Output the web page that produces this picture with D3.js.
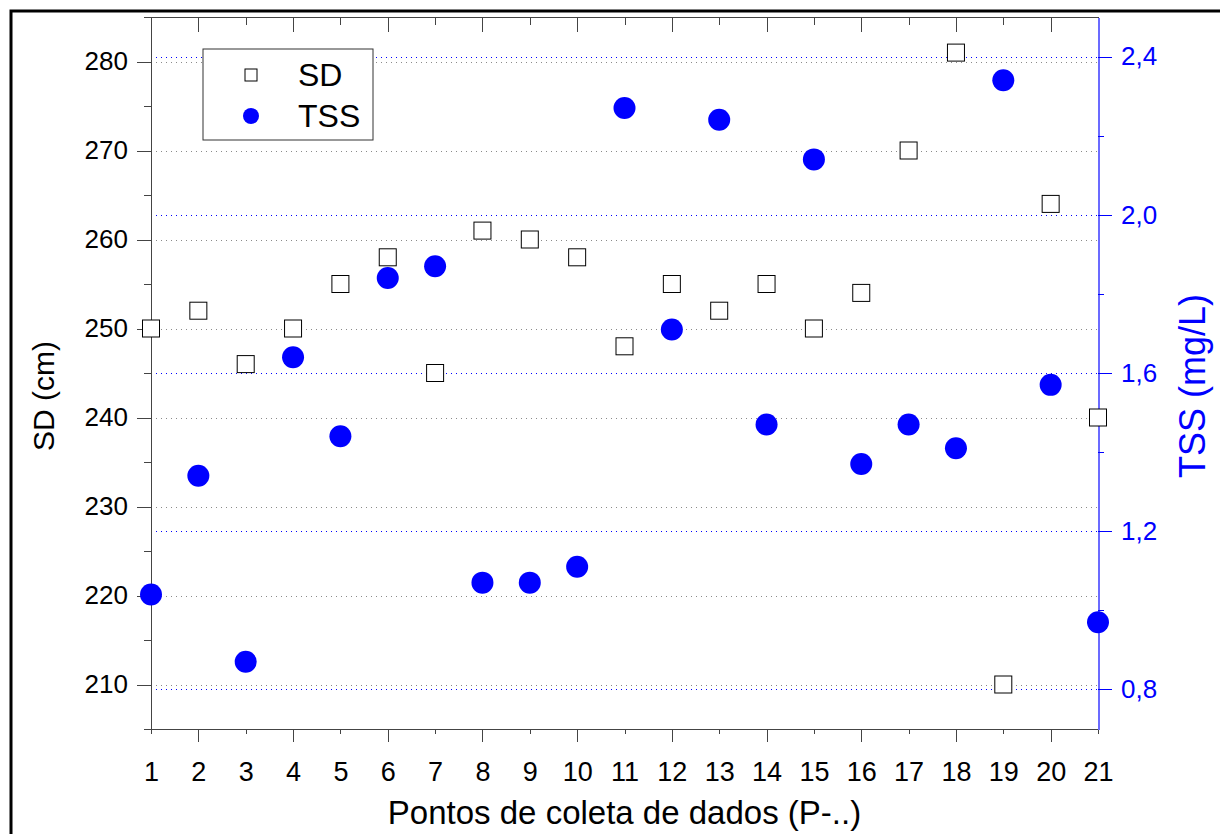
<!DOCTYPE html>
<html>
<head>
<meta charset="utf-8">
<script src="https://cdn.jsdelivr.net/npm/d3@7"></script>
<style>
  body { margin: 0; background: #fff; }
  svg { display: block; font-family: "Liberation Sans", Arial, sans-serif; }
  .axis path, .axis line, .grid line { shape-rendering: crispEdges; }
</style>
</head>
<body>
<div id="chart"></div>
<script>
// sampling points P-1 .. P-21
const points = [1, 2, 3, 4, 5, 6, 7, 8, 9, 10, 11, 12, 13, 14, 15, 16, 17, 18, 19, 20, 21];
// Secchi depth (cm)
const sdValues = [250, 252, 246, 250, 255, 258, 245, 261, 260, 258, 248, 255, 252, 255, 250, 254, 270, 281, 210, 264, 240];
// total suspended solids (mg/L)
const tssValues = [1.04, 1.34, 0.87, 1.64, 1.44, 1.84, 1.87, 1.07, 1.07, 1.11, 2.27, 1.71, 2.24, 1.47, 2.14, 1.37, 1.47, 1.41, 2.34, 1.57, 0.97];

const sdTicks = [210, 220, 230, 240, 250, 260, 270, 280];
const sdMinorTicks = [205, 215, 225, 235, 245, 255, 265, 275, 285];
const tssTicks = [0.8, 1.2, 1.6, 2.0, 2.4];
const tssMinorTicks = [1.0, 1.4, 1.8, 2.2];
const sdDomain = [205, 285];
const tssDomain = [0.7, 2.5];

const xTitle = "Pontos de coleta de dados (P-..)";
const sdTitle = "SD (cm)";
const tssTitle = "TSS (mg/L)";

const width = 1220;
const height = 834;
const margin = { top: 17, right: 122, bottom: 105, left: 151 };
const innerWidth = width - margin.left - margin.right;
const innerHeight = height - margin.top - margin.bottom;

const blue = "#0000ff";
const axisGray = "#444";

const data = points.map((p, i) => ({ p: p, sd: sdValues[i], tss: tssValues[i] }));

const svg = d3.select("#chart")
  .append("svg")
  .attr("width", width)
  .attr("height", height);

// outer frame of the figure
svg.append("path")
  .attr("d", `M11,${height + 10}V11H${width + 10}`)
  .attr("fill", "none")
  .attr("stroke", "#000")
  .attr("stroke-width", 3);

const chartArea = svg.append("g")
  .attr("transform", `translate(${margin.left}, ${margin.top})`);

const scaleX = d3.scaleLinear().domain([1, 21]).range([0, innerWidth]);
const scaleSD = d3.scaleLinear().domain(sdDomain).range([innerHeight, 0]);
const scaleTSS = d3.scaleLinear().domain(tssDomain).range([innerHeight, 0]);

// grid lines
chartArea.append("g")
  .attr("class", "grid")
  .selectAll("line")
  .data(sdTicks)
  .join("line")
  .attr("x1", 0)
  .attr("x2", innerWidth)
  .attr("y1", (d) => Math.round(scaleSD(d)))
  .attr("y2", (d) => Math.round(scaleSD(d)))
  .attr("stroke", "#8a8a8a")
  .attr("stroke-dasharray", "1,4");

chartArea.append("g")
  .attr("class", "grid")
  .selectAll("line")
  .data(tssTicks)
  .join("line")
  .attr("x1", 0)
  .attr("x2", innerWidth)
  .attr("y1", (d) => Math.round(scaleTSS(d)))
  .attr("y2", (d) => Math.round(scaleTSS(d)))
  .attr("stroke", blue)
  .attr("stroke-dasharray", "1,4");

// bottom axis: long ticks on even points, short on odd
const xAxis = chartArea.append("g")
  .attr("class", "axis")
  .attr("transform", `translate(0, ${innerHeight})`)
  .call(d3.axisBottom(scaleX).tickValues(points).tickSizeOuter(0));
xAxis.select(".domain").attr("stroke", axisGray).attr("d", `M0,0H${innerWidth}`);
xAxis.selectAll(".tick line")
  .attr("stroke", axisGray)
  .attr("y2", (d) => (d % 2 === 0 ? 13 : 5));
xAxis.selectAll(".tick text")
  .attr("y", 52)
  .attr("dy", 0)
  .attr("font-size", 27)
  .attr("fill", "#000");

// top axis, ticks pointing inward, no labels
const topAxis = chartArea.append("g")
  .attr("class", "axis")
  .call(d3.axisBottom(scaleX).tickValues(points).tickFormat("").tickSizeOuter(0));
topAxis.select(".domain").attr("stroke", axisGray).attr("d", `M0,0H${innerWidth}`);
topAxis.selectAll(".tick line")
  .attr("stroke", axisGray)
  .attr("y2", (d) => (d % 2 === 0 ? 15 : 8));

// left axis (SD)
const leftAxis = chartArea.append("g")
  .attr("class", "axis")
  .call(d3.axisLeft(scaleSD).tickValues(sdTicks).tickSize(14).tickPadding(9).tickSizeOuter(0));
leftAxis.select(".domain").attr("stroke", axisGray);
leftAxis.selectAll(".tick line").attr("stroke", axisGray);
leftAxis.selectAll(".tick text").attr("font-size", 26).attr("fill", "#000");

chartArea.append("g")
  .attr("class", "axis")
  .call(d3.axisLeft(scaleSD).tickValues(sdMinorTicks).tickSize(7).tickFormat("").tickSizeOuter(0))
  .call((g) => g.select(".domain").remove())
  .selectAll(".tick line")
  .attr("stroke", axisGray);

// right axis (TSS)
const rightAxis = chartArea.append("g")
  .attr("class", "axis")
  .attr("transform", `translate(${innerWidth}, 0)`)
  .call(
    d3.axisRight(scaleTSS)
      .tickValues(tssTicks)
      .tickSize(14)
      .tickPadding(9)
      .tickSizeOuter(0)
      .tickFormat((d) => d.toFixed(1).replace(".", ","))
  );
rightAxis.select(".domain").attr("stroke", "#6b6bff").attr("stroke-width", 2);
rightAxis.selectAll(".tick line").attr("stroke", blue);
rightAxis.selectAll(".tick text").attr("font-size", 26).attr("fill", blue);

chartArea.append("g")
  .attr("class", "axis")
  .attr("transform", `translate(${innerWidth}, 0)`)
  .call(d3.axisRight(scaleTSS).tickValues(tssMinorTicks).tickSize(6).tickFormat("").tickSizeOuter(0))
  .call((g) => g.select(".domain").remove())
  .selectAll(".tick line")
  .attr("stroke", blue);

// SD squares
const sq = 17;
chartArea.append("g")
  .selectAll("rect")
  .data(data)
  .join("rect")
  .attr("x", (d) => scaleX(d.p) - sq / 2)
  .attr("y", (d) => scaleSD(d.sd) - sq / 2)
  .attr("width", sq)
  .attr("height", sq)
  .attr("fill", "#fff")
  .attr("stroke", "#000")
  .attr("stroke-width", 1);

// TSS circles
chartArea.append("g")
  .selectAll("circle")
  .data(data)
  .join("circle")
  .attr("cx", (d) => scaleX(d.p))
  .attr("cy", (d) => scaleTSS(d.tss))
  .attr("r", 11)
  .attr("fill", blue);

// legend
const legend = svg.append("g").attr("transform", "translate(203, 49)");
legend.append("rect")
  .attr("width", 170)
  .attr("height", 91)
  .attr("fill", "#fff")
  .attr("stroke", "#333")
  .attr("stroke-width", 1);
legend.append("rect")
  .attr("x", 42)
  .attr("y", 20)
  .attr("width", 12)
  .attr("height", 12)
  .attr("fill", "#fff")
  .attr("stroke", "#000");
legend.append("circle")
  .attr("cx", 48)
  .attr("cy", 67)
  .attr("r", 8)
  .attr("fill", blue);
legend.append("text")
  .attr("x", 95)
  .attr("y", 37)
  .attr("font-size", 32)
  .text("SD");
legend.append("text")
  .attr("x", 95)
  .attr("y", 78)
  .attr("font-size", 32)
  .text("TSS");

// axis titles
svg.append("text")
  .attr("x", margin.left + innerWidth / 2)
  .attr("y", 824)
  .attr("text-anchor", "middle")
  .attr("font-size", 33)
  .text(xTitle);

svg.append("text")
  .attr("transform", `translate(54, 396) rotate(-90)`)
  .attr("text-anchor", "middle")
  .attr("font-size", 30)
  .text(sdTitle);

svg.append("text")
  .attr("transform", `translate(1205, 386) rotate(-90)`)
  .attr("text-anchor", "middle")
  .attr("font-size", 36)
  .attr("fill", blue)
  .text(tssTitle);
</script>
</body>
</html>
